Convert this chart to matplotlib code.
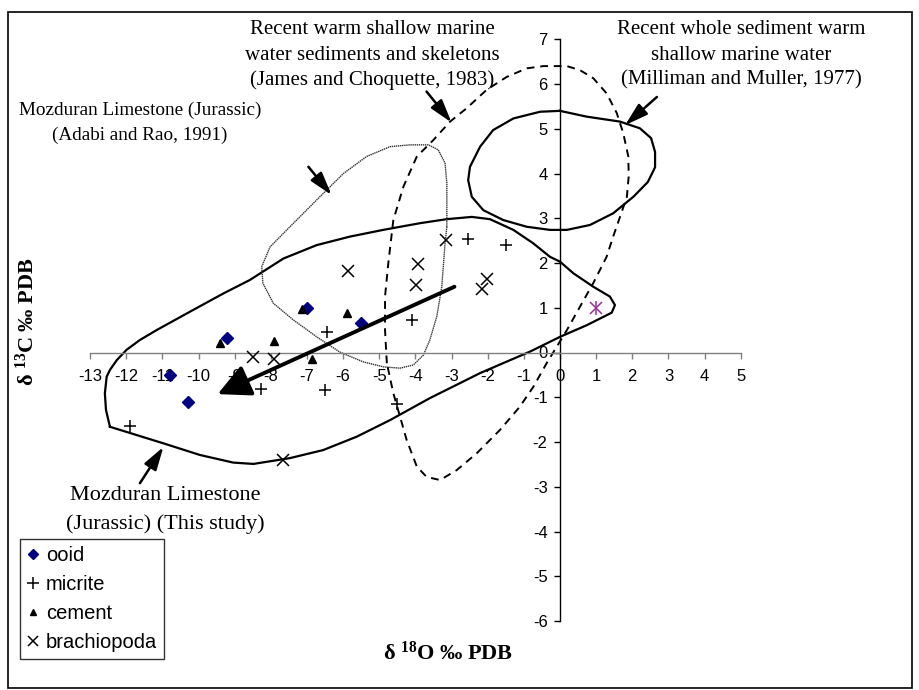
import matplotlib
matplotlib.use('Agg')
import matplotlib.pyplot as plt
from matplotlib.patches import Rectangle
from matplotlib.lines import Line2D

plt.rcParams['font.family'] = ['Liberation Sans', 'DejaVu Sans']
plt.rcParams['mathtext.fontset'] = 'custom'
plt.rcParams['mathtext.rm'] = 'Liberation Serif:bold'
plt.rcParams['mathtext.bf'] = 'Liberation Serif:bold'
plt.rcParams['mathtext.it'] = 'Liberation Serif:bold:italic'

# ---- data ----
ooid_x = [-7.0, -9.2, -5.5, -10.8, -10.3]
ooid_y = [1.0, 0.33, 0.65, -0.5, -1.1]
micrite_x = [-6.45, -8.28, -6.49, -11.89, -2.54, -1.50, -4.09, -4.52]
micrite_y = [0.46, -0.81, -0.84, -1.64, 2.54, 2.41, 0.72, -1.16]
cement_x = [-7.15, -5.9, -9.4, -7.9, -6.85]
cement_y = [0.97, 0.88, 0.22, 0.25, -0.15]
brach_x = [-8.48, -7.92, -3.15, -3.94, -3.98, -2.03, -2.17, -5.87, -7.65]
brach_y = [-0.11, -0.14, 2.51, 1.97, 1.50, 1.64, 1.41, 1.83, -2.40]
other_x = [1.0]
other_y = [1.0]

# trend arrow (start -> tip)
trend_start = (-2.92, 1.47)
trend_end = (-9.47, -0.93)

# field envelopes
study_x = [-12.45, -12.56, -12.59, -12.54, -12.45, -12.26, -11.99, -11.62, -11.16, -10.24,
           -9.31, -8.58, -7.65, -6.73, -5.81, -4.89, -3.87, -3.13, -2.44, -1.94, -1.29,
           -0.74, -0.28, 0.0, 0.37, 0.92, 1.38, 1.52, 1.43, 1.11, 0.74, 0.0, -0.83, -2.21,
           -3.60, -4.70, -5.62, -6.55, -7.47, -8.48, -9.04, -9.96, -10.97, -12.45]
study_y = [-1.66, -1.28, -0.91, -0.54, -0.39, -0.17, 0.06, 0.28, 0.50, 0.91,
           1.32, 1.62, 2.10, 2.40, 2.59, 2.74, 2.89, 2.98, 3.03, 2.98, 2.74,
           2.44, 2.14, 2.03, 1.77, 1.47, 1.25, 1.06, 0.89, 0.76, 0.61, 0.35, 0.02, -0.46,
           -1.02, -1.51, -1.88, -2.18, -2.36, -2.49, -2.46, -2.29, -2.03, -1.66]

adabi_x = [-3.13, -3.13, -3.18, -3.37, -3.64, -4.15, -4.70, -5.35, -5.99, -6.73, -7.47,
           -8.02, -8.25, -8.22, -7.93, -7.38, -6.73, -6.09, -5.44, -4.89, -4.43, -4.06,
           -3.78, -3.60, -3.41, -3.27, -3.18, -3.13]
adabi_y = [2.81, 3.78, 4.23, 4.53, 4.64, 4.64, 4.60, 4.38, 4.00, 3.41, 2.81,
           2.36, 1.92, 1.55, 1.10, 0.73, 0.35, 0.01, -0.21, -0.32, -0.35, -0.28,
           -0.06, 0.28, 0.80, 1.47, 2.44, 2.81]

james_x = [-4.79, -4.84, -4.84, -4.75, -4.61, -4.33, -3.96, -3.50, -3.04, -2.58, -2.03,
           -1.47, -0.92, -0.46, 0.19, 0.55, 0.92, 1.29, 1.57, 1.75, 1.89, 1.90, 1.85,
           1.66, 1.47, 1.29, 0.92, 0.55, 0.19, -0.09, -0.37, -0.74, -1.11, -1.66, -2.30,
           -2.86, -3.32, -3.69, -3.96, -4.24, -4.43, -4.61, -4.79]
james_y = [-0.24, 0.50, 1.25, 1.99, 2.96, 3.71, 4.38, 4.75, 5.16, 5.46, 5.87,
           6.16, 6.35, 6.40, 6.40, 6.31, 6.13, 5.79, 5.35, 4.90, 4.38, 3.93, 3.48,
           3.03, 2.59, 2.14, 1.55, 1.02, 0.50, 0.13, -0.24, -0.77, -1.21, -1.73, -2.25,
           -2.63, -2.85, -2.78, -2.55, -1.96, -1.42, -0.91, -0.24]

milli_x = [0.0, 0.74, 1.66, 2.21, 2.52, 2.63, 2.63, 2.43, 2.03, 1.47, 0.83, 0.19, -0.28,
           -0.92, -1.57, -2.12, -2.44, -2.54, -2.49, -2.21, -1.85, -1.29, -0.55, 0.0]
milli_y = [5.40, 5.27, 5.16, 5.01, 4.79, 4.48, 4.14, 3.81, 3.48, 3.11, 2.85, 2.74, 2.74,
           2.81, 2.96, 3.18, 3.48, 3.85, 4.15, 4.60, 4.97, 5.23, 5.38, 5.40]

x_ticks = list(range(-13, 6))
y_ticks = list(range(-6, 8))

# ---- figure ----
W, H = 919, 690
fig = plt.figure(figsize=(W / 100, H / 100), dpi=100)
fig.patch.set_facecolor('white')

def fx(px):
    return px / W

def fy(py):
    return 1 - py / H

ax = fig.add_axes([fx(90.05), fy(621.0), fx(740.75) - fx(90.05), fy(39.25) - fy(621.0)])
ax.set_xlim(-13, 5)
ax.set_ylim(-6, 7)
ax.patch.set_alpha(0)

for s in ['top', 'right']:
    ax.spines[s].set_visible(False)
ax.spines['left'].set_position(('data', 0))
ax.spines['bottom'].set_position(('data', 0))
ax.spines['left'].set_color('black')
ax.spines['left'].set_linewidth(1.0)
ax.spines['bottom'].set_color('#808080')
ax.spines['bottom'].set_linewidth(1.0)
ax.set_xticks(x_ticks)
ax.set_yticks(y_ticks)
ax.set_xticklabels([str(v) for v in x_ticks])
ax.set_yticklabels([str(v) for v in y_ticks])
ax.tick_params(axis='x', direction='out', length=4, width=1, color='#808080', pad=8,
               labelsize=12)
ax.tick_params(axis='y', direction='out', length=4, width=1, color='black', pad=5,
               labelsize=12)

# envelopes
ax.plot(study_x, study_y, color='black', lw=1.6, zorder=2)
ax.plot(adabi_x, adabi_y, color='#333333', lw=1.0, ls=(0, (1, 0.5)), zorder=2)
ax.plot(james_x, james_y, color='black', lw=1.4, ls=(0, (4, 3)), zorder=2)
ax.plot(milli_x, milli_y, color='black', lw=1.6, zorder=2)

# points
ax.plot(ooid_x, ooid_y, ls='none', marker='D', ms=6, color='#000080', zorder=4)
ax.plot(micrite_x, micrite_y, ls='none', marker='+', ms=9, mew=1.1, color='black', zorder=4)
ax.plot(cement_x, cement_y, ls='none', marker='^', ms=6, color='black', zorder=4)
ax.plot(brach_x, brach_y, ls='none', marker='x', ms=8, mew=1.1, color='black', zorder=4)
ax.plot(other_x, other_y, ls='none', marker='x', ms=8, mew=1.1, color='#993399', zorder=4)
ax.plot(other_x, other_y, ls='none', marker='|', ms=10, mew=1.1, color='#993399', zorder=4)

# trend arrow
ax.annotate('', xy=trend_end, xytext=trend_start,
            arrowprops=dict(arrowstyle='-|>,head_length=0.9,head_width=0.45', lw=2.8,
                            color='black', mutation_scale=22, shrinkA=0, shrinkB=0),
            zorder=5)

# annotation texts
serif = ['Liberation Serif', 'DejaVu Serif']
def label(lines, cx, ys, fs):
    for line, y in zip(lines, ys):
        fig.text(fx(cx), fy(y), line, ha='center', va='center', fontsize=fs, family=serif)

label(['Recent warm shallow marine', 'water sediments and skeletons',
       '(James and Choquette, 1983)'], 372, [30, 55, 80], 15)
label(['Recent whole sediment warm', 'shallow marine water',
       '(Milliman and Muller, 1977)'], 741, [30, 55, 80], 15)
label(['Mozduran Limestone (Jurassic)', '(Adabi and Rao, 1991)'], 140, [110, 135], 13.8)
label(['Mozduran Limestone', '(Jurassic) (This study)'], 165, [495, 524], 16)

# pointer arrows
pointers = [((-3.69, 5.83), (-3.00, 5.14)),
            ((-6.96, 4.15), (-6.32, 3.52)),
            ((2.68, 5.71), (1.80, 5.08)),
            ((-11.62, -2.92), (-10.97, -2.11))]
for start, tip in pointers:
    ax.annotate('', xy=tip, xytext=start,
                arrowprops=dict(arrowstyle='-|>,head_length=1.0,head_width=0.3', lw=1.8,
                                color='black', mutation_scale=14, shrinkA=0, shrinkB=0),
                annotation_clip=False, zorder=5)

# axis titles
fig.text(fx(448), fy(653), 'δ $^{18}$O ‰ PDB', ha='center', va='center', fontsize=16,
         fontweight='bold', family=serif)
fig.text(fx(27), fy(322), 'δ $^{13}$C ‰ PDB', ha='center', va='center', fontsize=16,
         fontweight='bold', family=serif, rotation=90)

# legend
handles = [Line2D([], [], ls='none', marker='D', ms=5, color='#000080'),
           Line2D([], [], ls='none', marker='+', ms=8, mew=1.1, color='black'),
           Line2D([], [], ls='none', marker='^', ms=5, color='black'),
           Line2D([], [], ls='none', marker='x', ms=7, mew=1.1, color='black')]
labels = ['ooid', 'micrite', 'cement', 'brachiopoda']
leg = fig.legend(handles, labels, loc='upper left', bbox_to_anchor=(fx(20), fy(539)),
                 frameon=True, fancybox=False, fontsize=14.5, handlelength=0.6,
                 handletextpad=0.35, labelspacing=0.5, borderpad=0.35, borderaxespad=0)
leg.get_frame().set_edgecolor('black')
leg.get_frame().set_linewidth(1.0)

# outer border
fig.patches.append(Rectangle((fx(8), fy(688)), fx(912) - fx(8), fy(12) - fy(688),
                             transform=fig.transFigure, fill=False, edgecolor='black', lw=1.2))

fig.savefig('out.png', dpi=100)
